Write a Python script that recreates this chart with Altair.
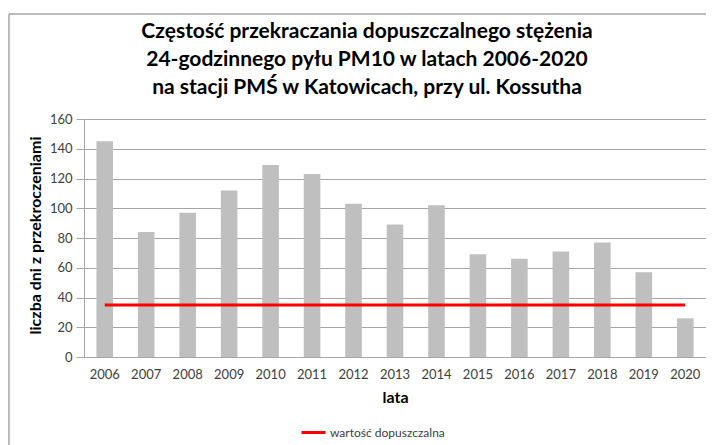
import altair as alt
import pandas as pd

# ---- data ----
years = [str(y) for y in range(2006, 2021)]
days = [145, 84, 97, 112, 129, 123, 103, 89, 102, 69, 66, 71, 77, 57, 26]
limit_value = 35
limit_label = "wartość dopuszczalna"
y_ticks = [0, 20, 40, 60, 80, 100, 120, 140, 160]
title_lines = [
    "Częstość przekraczania dopuszczalnego stężenia",
    "24-godzinnego pyłu PM10 w latach 2006-2020",
    "na stacji PMŚ w Katowicach, przy ul. Kossutha",
]

df = pd.DataFrame({
    "rok": years,
    "dni": days,
    "limit": [limit_value] * len(years),
    "seria": [limit_label] * len(years),
})

FONT = "Lato"
W, H = 622, 238

x_scale = alt.Scale(paddingInner=0.6, paddingOuter=0.3)
x_axis = alt.Axis(
    title="lata", labelAngle=0, ticks=False, labelPadding=11,
    domainColor="#A6A6A6", titleY=40, titleBaseline="middle",
)
y_scale = alt.Scale(domain=[0, 160], nice=False)
y_axis = alt.Axis(
    values=y_ticks, tickCount=9, labelOverlap=False,
    title="liczba dni z przekroczeniami",
    titleAngle=-90, titleX=-49, titleY=116, titleAlign="center",
    titleBaseline="middle", tickSize=8, labelPadding=4,
    domainColor="#A6A6A6", tickColor="#A6A6A6", gridColor="#A6A6A6",
)

bars = alt.Chart(df).mark_bar(color="#BFBFBF").encode(
    x=alt.X("rok:O", scale=x_scale, axis=x_axis),
    y=alt.Y("dni:Q", scale=y_scale, axis=y_axis),
)

line = alt.Chart(df).mark_line(strokeWidth=3).encode(
    x=alt.X("rok:O", scale=x_scale, axis=x_axis),
    y=alt.Y("limit:Q", scale=y_scale, axis=y_axis),
    color=alt.Color(
        "seria:N",
        scale=alt.Scale(domain=[limit_label], range=["#FF0000"]),
        legend=alt.Legend(
            title=None, orient="none", legendX=216, legendY=300,
            symbolType="stroke", symbolSize=576, symbolStrokeWidth=3,
            labelFontSize=12, labelOffset=3, labelFont=FONT, labelColor="#404040",
        ),
    ),
)

frame = alt.Chart(alt.Data(values=[{}]))
border_v = frame.mark_rule(color="#A6A6A6", strokeWidth=1.5).encode(
    x=alt.value(-75), y=alt.value(-105), y2=alt.value(340)
)
border_h = frame.mark_rule(color="#A6A6A6", strokeWidth=1.5).encode(
    x=alt.value(-75), x2=alt.value(650), y=alt.value(-105)
)

chart = alt.layer(bars, line, border_v, border_h).properties(
    width=W, height=H,
    autosize="none",
    padding={"left": 76, "top": 111, "right": 0, "bottom": 88},
    title=alt.TitleParams(
        text=title_lines, font=FONT, fontSize=21, fontWeight="bold",
        color="#000000", anchor="middle", dx=-28, offset=-85, lineHeight=28,
    ),
).configure_view(
    stroke="#D9D9D9"
).configure_axis(
    labelFont=FONT, labelFontSize=13, labelColor="#404040",
    titleFont=FONT, titleFontSize=16, titleFontWeight="bold", titleColor="#000000",
    gridWidth=1,
)

chart.save("out.html", embed_options={"renderer": "svg", "actions": False})
